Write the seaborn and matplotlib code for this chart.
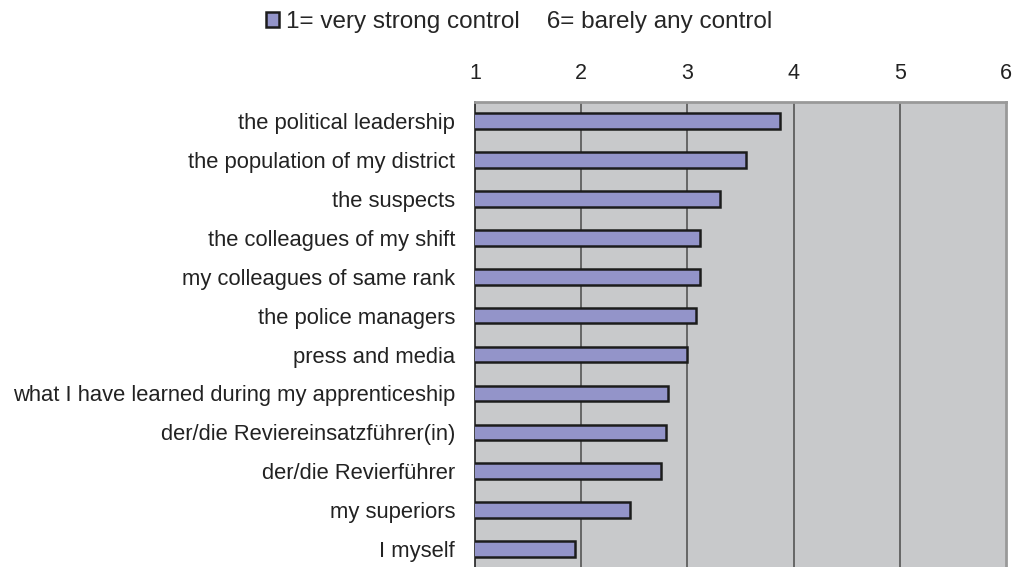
import matplotlib
matplotlib.use("Agg")
import matplotlib.pyplot as plt
import seaborn as sns
import pandas as pd

categories = [
    "the political leadership",
    "the population of my district",
    "the suspects",
    "the colleagues of my shift",
    "my colleagues of same rank",
    "the police managers",
    "press and media",
    "what I have learned during my apprenticeship",
    "der/die Reviereinsatzführer(in)",
    "der/die Revierführer",
    "my superiors",
    "I myself",
]
values = [3.87, 3.55, 3.31, 3.12, 3.12, 3.08, 3.00, 2.82, 2.80, 2.75, 2.46, 1.94]
x_ticks = [1, 2, 3, 4, 5, 6]
legend_label = "1= very strong control    6= barely any control"

df = pd.DataFrame({"category": categories, "value": values})

sns.set_theme(style="white")
plt.rcParams["font.family"] = ["Liberation Sans", "DejaVu Sans"]

fig = plt.figure(figsize=(10.13, 5.67), dpi=100)
ax = fig.add_axes([475 / 1013, 1 - 568.5 / 567, 531 / 1013, 466.8 / 567])
ax.set_facecolor("#c8c9cb")

sns.barplot(data=df, x="value", y="category", orient="h", ax=ax,
            color="#9394c9", saturation=1, width=0.4,
            edgecolor="#1c1c1c", linewidth=1.8, label=legend_label, zorder=3)

ax.set_xlim(1, 6)
ax.set_ylim(len(categories) - 0.5, -0.5)
ax.set_xticks(x_ticks)
ax.set_xticklabels([str(t) for t in x_ticks])
ax.xaxis.tick_top()
ax.tick_params(axis="x", length=0, pad=12.5, labelsize=15.5, colors="#222222")
ax.tick_params(axis="y", length=0, pad=14.4, labelsize=15.8, colors="#222222")
ax.set_xlabel("")
ax.set_ylabel("")

for t in x_ticks[1:-1]:
    ax.axvline(t, color="#555555", linewidth=1.2, zorder=1)

for side in ["left", "bottom"]:
    ax.spines[side].set_color("#222222")
    ax.spines[side].set_linewidth(1.2)
for side in ["top", "right"]:
    ax.spines[side].set_color("#999999")
    ax.spines[side].set_linewidth(2)

handles, labels = ax.get_legend_handles_labels()
fig.legend(handles[:1], labels[:1], loc="center", bbox_to_anchor=(519 / 1013, 1 - 22 / 567),
           frameon=False, fontsize=17.5, handlelength=0.55, handleheight=0.55,
           handletextpad=0.3, borderpad=0)
if ax.get_legend():
    ax.get_legend().remove()

fig.savefig("out.png", dpi=100)
